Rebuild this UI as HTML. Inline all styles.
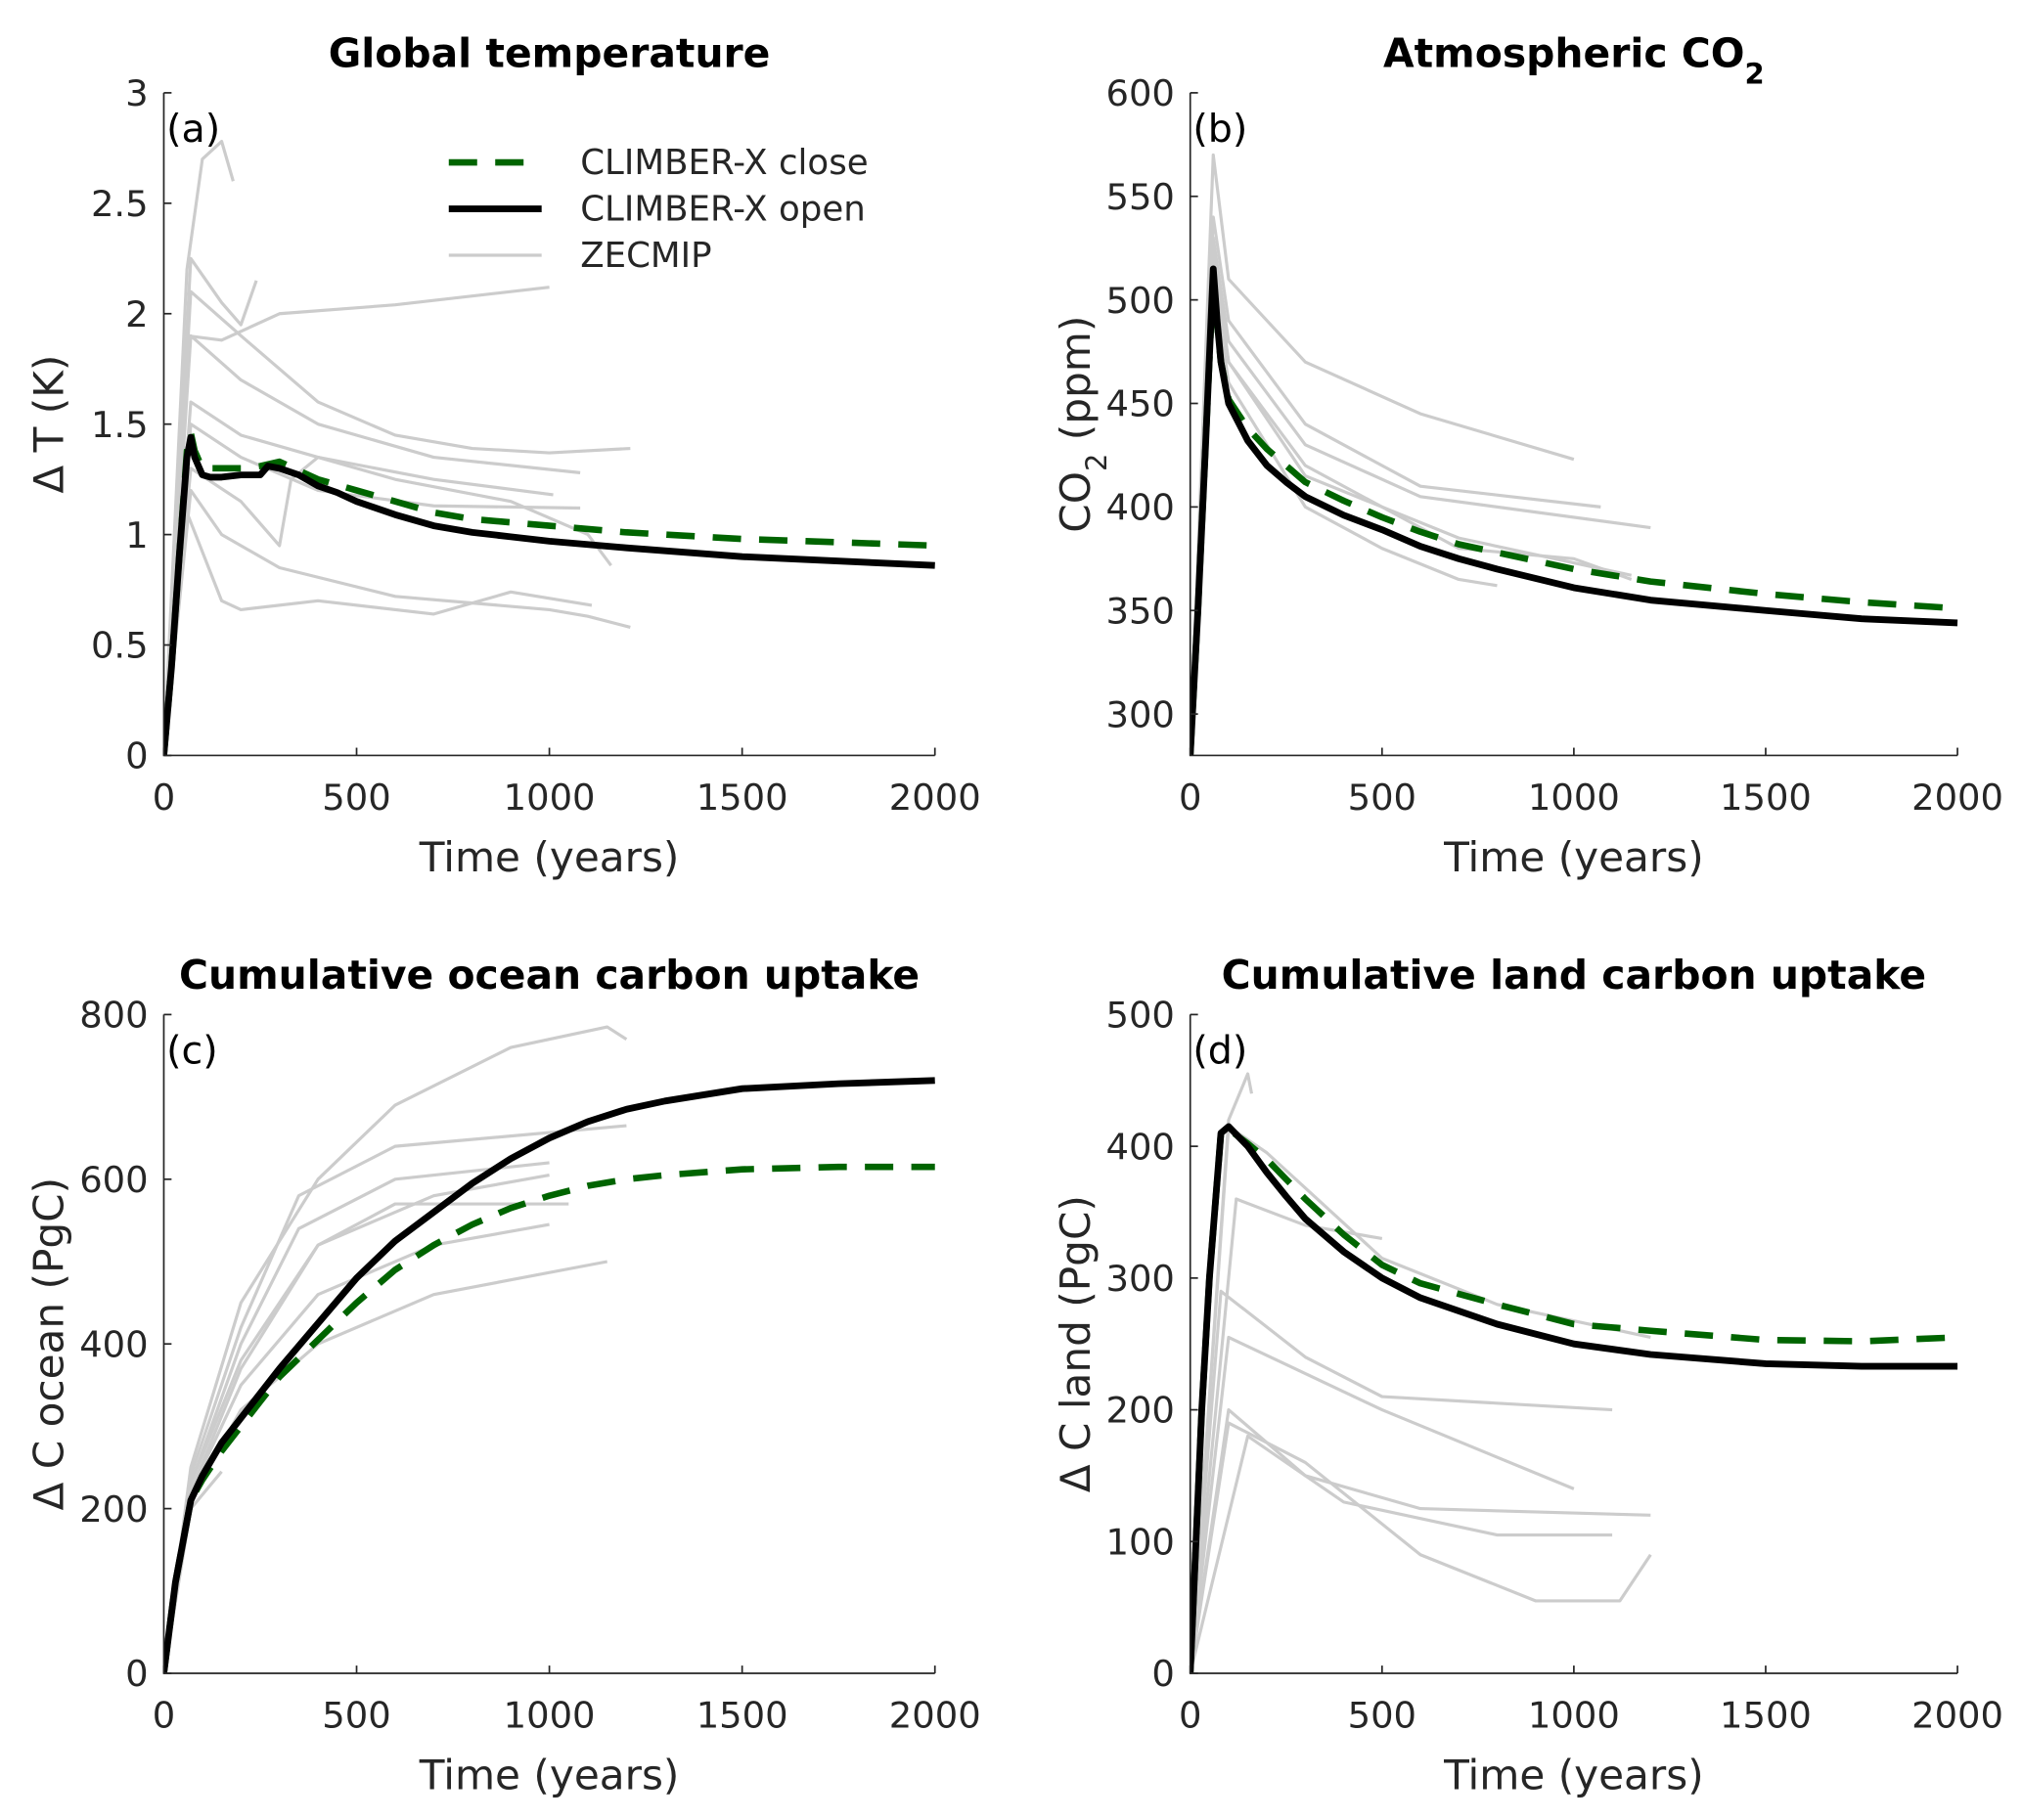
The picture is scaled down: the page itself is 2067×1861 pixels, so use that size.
<!DOCTYPE html>
<html><head><meta charset="utf-8"><style>
html,body{margin:0;padding:0;background:#fff}
svg text{font-family:"DejaVu Sans","Liberation Sans",sans-serif;fill:#262626}
</style></head><body>
<svg id="fig" width="2067" height="1856" viewBox="0 0 1568 1408" xmlns="http://www.w3.org/2000/svg"></svg>
<script>
// ---- data ----
const tA_black=[0,20,40,60,70,80,100,120,150,200,250,270,300,350,400,450,500,550,600,650,700,800,900,1000,1200,1500,2000];
const vA_black=[0,0.4,0.9,1.35,1.44,1.35,1.27,1.26,1.26,1.27,1.27,1.31,1.30,1.27,1.22,1.19,1.15,1.12,1.09,1.065,1.04,1.01,0.99,0.97,0.94,0.90,0.86];
const tA_green=[0,20,40,60,70,80,100,150,200,250,300,350,400,500,600,700,800,1000,1200,1500,2000];
const vA_green=[0,0.4,0.9,1.38,1.46,1.38,1.30,1.30,1.30,1.31,1.33,1.29,1.25,1.20,1.15,1.10,1.07,1.04,1.01,0.98,0.95];
const grayA=[
 [[0,0],[60,2.2],[100,2.7],[150,2.78],[180,2.6]],
 [[0,0],[70,2.25],[150,2.05],[200,1.95],[240,2.15]],
 [[0,0],[60,1.9],[150,1.88],[300,2.0],[600,2.04],[1000,2.12]],
 [[0,0],[70,2.1],[200,1.9],[400,1.6],[600,1.45],[800,1.39],[1000,1.37],[1210,1.39]],
 [[0,0],[70,1.9],[200,1.7],[400,1.5],[700,1.35],[1080,1.28]],
 [[0,0],[70,1.6],[200,1.45],[400,1.35],[700,1.25],[1010,1.18]],
 [[0,0],[70,1.5],[200,1.35],[400,1.2],[700,1.13],[1080,1.12]],
 [[0,0],[70,1.3],[200,1.15],[300,0.95],[330,1.25],[400,1.35],[600,1.25],[900,1.15],[1100,1.0],[1160,0.86]],
 [[0,0],[70,1.2],[150,1.0],[300,0.85],[600,0.72],[1000,0.66],[1100,0.63],[1210,0.58]],
 [[0,0],[60,1.1],[150,0.7],[200,0.66],[400,0.70],[700,0.64],[900,0.74],[1110,0.68]]
];
const tB_black=[0,20,40,60,70,80,100,150,200,250,300,400,500,600,700,800,1000,1200,1500,1750,2000];
const vB_black=[280,350,430,515,490,470,450,432,420,412,405,396,389,381,375,370,361,355,350,346,344];
const tB_green=[0,20,40,60,70,80,100,150,200,250,300,400,500,600,700,800,1000,1200,1500,1750,2000];
const vB_green=[280,350,430,512,488,470,452,438,428,420,412,403,395,388,382,378,370,364,358,354,351];
const grayB=[
 [[0,280],[60,570],[100,510],[300,470],[600,445],[1000,423]],
 [[0,280],[60,540],[100,490],[300,440],[600,410],[1070,400]],
 [[0,280],[60,530],[100,480],[300,430],[600,405],[1200,390]],
 [[0,280],[60,520],[100,470],[300,415],[700,385],[1150,367]],
 [[0,280],[60,510],[100,460],[300,400],[500,380],[700,365],[800,362]],
 [[0,280],[60,525],[100,470],[300,420],[700,380],[1000,375],[1150,365]]
];
const tC_black=[0,30,70,100,150,200,250,300,400,500,600,700,800,900,1000,1100,1200,1300,1500,1750,2000];
const vC_black=[0,110,210,240,280,310,340,370,425,480,525,560,595,625,650,670,685,695,710,716,720];
const tC_green=[0,30,70,100,150,200,250,300,400,500,600,700,800,900,1000,1100,1200,1300,1500,1750,2000];
const vC_green=[0,110,210,235,270,300,330,360,405,450,490,520,545,565,580,592,600,605,612,615,615];
const grayC=[
 [[0,0],[70,250],[200,450],[400,600],[600,690],[900,760],[1150,785],[1200,770]],
 [[0,0],[70,240],[200,420],[350,580],[600,640],[1200,665]],
 [[0,0],[70,230],[200,400],[350,540],[600,600],[1000,620]],
 [[0,0],[70,230],[200,380],[400,520],[700,580],[1000,605]],
 [[0,0],[70,220],[200,370],[400,520],[600,570],[1050,570]],
 [[0,0],[70,220],[200,350],[400,460],[700,520],[1000,545]],
 [[0,0],[70,210],[200,320],[400,400],[700,460],[1150,500]],
 [[0,0],[70,200],[150,245]]
];
const tD_black=[0,30,50,80,100,150,200,250,300,400,500,600,700,800,1000,1200,1500,1750,2000];
const vD_black=[0,200,300,410,415,400,380,362,345,320,300,285,275,265,250,242,235,233,233];
const tD_green=[0,30,50,80,100,150,200,250,300,400,500,600,700,800,1000,1200,1500,1750,2000];
const vD_green=[0,200,300,410,413,402,390,375,360,333,310,296,288,280,265,260,253,252,255];
const grayD=[
 [[0,0],[100,420],[150,455],[160,440]],
 [[0,0],[100,415],[200,395],[500,315],[800,280],[1200,255]],
 [[0,0],[120,360],[300,340],[500,330]],
 [[0,0],[80,290],[300,240],[500,210],[1100,200]],
 [[0,0],[100,255],[500,200],[1000,140]],
 [[0,0],[100,200],[300,150],[600,125],[1200,120]],
 [[0,0],[150,180],[400,130],[800,105],[1100,105]],
 [[0,0],[100,190],[300,160],[600,90],[900,55],[1120,55],[1200,90]]
];
const xTicks=[0,500,1000,1500,2000];

const NS="http://www.w3.org/2000/svg";
const svg=document.getElementById('fig');
function mk(tag,attrs,parent){const e=document.createElementNS(NS,tag);for(const k in attrs)e.setAttribute(k,attrs[k]);(parent||svg).appendChild(e);return e;}

function panel(cfg){
 const g=mk('g',{});
 
 
 const X=t=>cfg.x0+(t-0)/2000*(cfg.x1-cfg.x0);
 const Y=v=>cfg.y1-(v-cfg.ymin)/(cfg.ymax-cfg.ymin)*(cfg.y1-cfg.y0);
 const clip='clip-'+cfg.name;
 const cp=mk('clipPath',{id:clip},g);mk('rect',{x:cfg.x0,y:cfg.y0-4,width:cfg.x1-cfg.x0+4,height:cfg.y1-cfg.y0+4},cp);
 const lines=mk('g',{'clip-path':'url(#'+clip+')'},g);
 cfg.gray.forEach((ln,i)=>{
  const p=mk('polyline',{points:ln.map(q=>X(q[0])+','+Y(q[1])).join(' '),fill:'none',stroke:'#cccccc','stroke-width':2.4,'stroke-linejoin':'round'},lines);
  
  
 });
 const gr=mk('polyline',{points:cfg.tg.map((t,i)=>X(t)+','+Y(cfg.vg[i])).join(' '),fill:'none',stroke:'#006400','stroke-width':5,'stroke-dasharray':'22 14','stroke-linejoin':'round'},lines);
 
 
 const bl=mk('polyline',{points:cfg.tb.map((t,i)=>X(t)+','+Y(cfg.vb[i])).join(' '),fill:'none',stroke:'#000','stroke-width':5.2,'stroke-linejoin':'round'},lines);
 
 
 const ax=mk('path',{d:`M${cfg.x0},${cfg.y0}V${cfg.y1}H${cfg.x1}`,fill:'none',stroke:'#262626','stroke-width':1.3},g);
 
 
 xTicks.forEach(t=>{
  mk('line',{x1:X(t),x2:X(t),y1:cfg.y1,y2:cfg.y1-6,stroke:'#262626','stroke-width':1.3},g);
  const tx=mk('text',{x:X(t),y:cfg.y1+42,'text-anchor':'middle','font-size':28},g);tx.textContent=t;
  
  
 });
 cfg.yt.forEach(v=>{
  mk('line',{x1:cfg.x0,x2:cfg.x0+6,y1:Y(v),y2:Y(v),stroke:'#262626','stroke-width':1.3},g);
  const tx=mk('text',{x:cfg.x0-12,y:Y(v)+10,'text-anchor':'end','font-size':28},g);tx.textContent=v;
  
  
 });
 const xl=mk('text',{x:(cfg.x0+cfg.x1)/2,y:cfg.y1+90,'text-anchor':'middle','font-size':32},g);xl.textContent='Time (years)';
 
 
 const yl=mk('text',{x:0,y:0,'text-anchor':'middle','font-size':32,transform:`translate(${cfg.x0-78},${(cfg.y0+cfg.y1)/2}) rotate(-90)`},g);yl.innerHTML=cfg.ylabel;
 
 
 const ti=mk('text',{x:(cfg.x0+cfg.x1)/2,y:cfg.y0-20,'text-anchor':'middle','font-size':31,'font-weight':'bold','style':'fill:#000'},g);ti.innerHTML=cfg.title;
 
 
 const lb=mk('text',{x:cfg.x0+2,y:cfg.y0+38,'font-size':30,'style':'fill:#000'},g);lb.textContent=cfg.label;
 
 
}
panel({name:'panel-a-temperature',x0:127,x1:725,y0:72,y1:586,ymin:0,ymax:3,yt:[0,0.5,1,1.5,2,2.5,3],
 tb:tA_black,vb:vA_black,tg:tA_green,vg:vA_green,gray:grayA,ylabel:'Δ T (K)',title:'Global temperature',label:'(a)'});
panel({name:'panel-b-co2',x0:923,x1:1518,y0:72,y1:586,ymin:280,ymax:600,yt:[300,350,400,450,500,550,600],
 tb:tB_black,vb:vB_black,tg:tB_green,vg:vB_green,gray:grayB,ylabel:'CO<tspan baseline-shift="sub" font-size="22">2</tspan> (ppm)',title:'Atmospheric CO<tspan baseline-shift="sub" font-size="22">2</tspan>',label:'(b)'});
panel({name:'panel-c-ocean',x0:127,x1:725,y0:787,y1:1298,ymin:0,ymax:800,yt:[0,200,400,600,800],
 tb:tC_black,vb:vC_black,tg:tC_green,vg:vC_green,gray:grayC,ylabel:'Δ C ocean (PgC)',title:'Cumulative ocean carbon uptake',label:'(c)'});
panel({name:'panel-d-land',x0:923,x1:1518,y0:787,y1:1298,ymin:0,ymax:500,yt:[0,100,200,300,400,500],
 tb:tD_black,vb:vD_black,tg:tD_green,vg:vD_green,gray:grayD,ylabel:'Δ C land (PgC)',title:'Cumulative land carbon uptake',label:'(d)'});
</script>
<svg width="2067" height="1856" viewBox="0 0 1568 1408" style="position:absolute;left:0;top:0" xmlns="http://www.w3.org/2000/svg">
 <g>
  <line x1="348" x2="420" y1="126" y2="126" stroke="#006400" stroke-width="5" stroke-dasharray="22 14"/>
  <text x="450" y="135" font-size="27">CLIMBER-X close</text></g>
 <g>
  <line x1="348" x2="420" y1="162" y2="162" stroke="#000" stroke-width="5.2"/>
  <text x="450" y="171" font-size="27">CLIMBER-X open</text></g>
 <g>
  <line x1="348" x2="420" y1="198" y2="198" stroke="#cccccc" stroke-width="2.4"/>
  <text x="450" y="207" font-size="27">ZECMIP</text></g>
</svg>
</body></html>
